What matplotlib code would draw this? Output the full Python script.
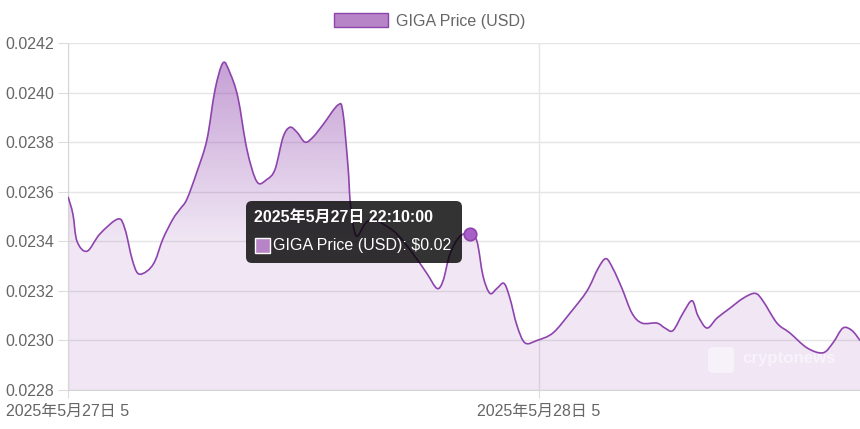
import numpy as np
import matplotlib.pyplot as plt
from matplotlib.path import Path
from matplotlib.patches import PathPatch, FancyBboxPatch, Rectangle, Patch

plt.rcParams['font.family'] = ['Liberation Sans', 'Noto Sans CJK JP']

# hours since first sample, GIGA price in USD
hours = [0.00, 0.25, 0.46, 0.97, 1.63, 2.55, 2.90, 3.26, 3.57, 4.03,
         4.43, 4.84, 5.35, 5.71, 6.06, 6.57, 7.08, 7.49, 7.90, 8.25,
         8.66, 9.12, 9.63, 10.14, 10.55, 10.96, 11.31, 11.67, 12.08, 12.48,
         12.99, 13.76, 14.01, 14.27, 14.37, 14.52, 14.73, 15.13, 15.54, 16.05,
         16.76, 17.58, 18.29, 18.80, 19.11, 19.47, 19.97, 20.48, 20.84, 21.15,
         21.50, 21.86, 22.22, 22.52, 22.88, 23.29, 23.90, 24.71, 25.58, 26.45,
         27.01, 27.41, 27.77, 28.23, 28.74, 29.25, 30.01, 30.42, 30.83, 31.34,
         31.80, 32.10, 32.56, 33.07, 33.73, 34.40, 35.01, 35.41, 36.13, 36.79,
         37.66, 38.47, 38.98, 39.49, 39.95, 40.36]
price = [0.02358, 0.02351, 0.02340, 0.02336, 0.02343, 0.02349, 0.02345, 0.02333, 0.02327, 0.02328,
         0.02332, 0.02341, 0.02349, 0.02353, 0.02357, 0.02368, 0.02381, 0.02401, 0.02412, 0.02408,
         0.02398, 0.02377, 0.02364, 0.02365, 0.02369, 0.02382, 0.02386, 0.02384, 0.02380, 0.02382,
         0.02387, 0.02395, 0.02392, 0.02370, 0.02357, 0.02347, 0.02342, 0.02347, 0.02349, 0.02347,
         0.02343, 0.02335, 0.02327, 0.02321, 0.02324, 0.02335, 0.02342, 0.02343, 0.02340, 0.02326,
         0.02319, 0.02321, 0.02323, 0.02317, 0.02306, 0.02299, 0.02300, 0.02303, 0.02311, 0.02320,
         0.02329, 0.02333, 0.02329, 0.02321, 0.02311, 0.02307, 0.02307, 0.02305, 0.02304, 0.02311,
         0.02316, 0.02310, 0.02305, 0.02309, 0.02313, 0.02317, 0.02319, 0.02316, 0.02307, 0.02303,
         0.02297, 0.02295, 0.02299, 0.02305, 0.02304, 0.02300]

x_ticks = [0, 24]
x_labels = ['2025年5月27日 5', '2025年5月28日 5']
y_ticks = [0.0228, 0.0230, 0.0232, 0.0234, 0.0236, 0.0238, 0.0240, 0.0242]
series_name = 'GIGA Price (USD)'
tip_title = '2025年5月27日 22:10:00'
tip_label = 'GIGA Price (USD): $0.02'
tip_idx = 47

line_c = '#8e44ad'
box_c = '#b784c8'
text_c = '#666666'
grid_c = '#e5e5e5'


def smooth_path(x, y, k=1 / 6):
    # catmull-rom through the points, like chart.js tension
    verts = [(x[0], y[0])]
    codes = [Path.MOVETO]
    n = len(x)
    for i in range(n - 1):
        x0, y0 = x[max(i - 1, 0)], y[max(i - 1, 0)]
        x3, y3 = x[min(i + 2, n - 1)], y[min(i + 2, n - 1)]
        c1 = (x[i] + (x[i + 1] - x0) * k, y[i] + (y[i + 1] - y0) * k)
        c2 = (x[i + 1] - (x3 - x[i]) * k, y[i + 1] - (y3 - y[i]) * k)
        verts += [c1, c2, (x[i + 1], y[i + 1])]
        codes += [Path.CURVE4] * 3
    return verts, codes


fig = plt.figure(figsize=(8.6, 4.29), dpi=100)
ax = fig.add_axes([68 / 860, 1 - 390 / 429, 1 - 68 / 860, (390 - 43) / 429])

ymin, ymax = y_ticks[0], y_ticks[-1]
xmax = hours[-1]
ax.set_xlim(0, xmax)
ax.set_ylim(ymin, ymax)

verts, codes = smooth_path(hours, price)

# gradient area fill
fverts = verts + [(hours[-1], ymin), (hours[0], ymin), (hours[0], ymin)]
fcodes = codes + [Path.LINETO, Path.LINETO, Path.CLOSEPOLY]
fill_patch = PathPatch(Path(fverts, fcodes), facecolor='none', edgecolor='none')
ax.add_patch(fill_patch)
yy = np.linspace(ymin, ymax, 300)
alpha = np.clip(0.13 + 0.42 * (yy - 0.02340) / (ymax - 0.02340), 0.13, 0.55)
grad = np.zeros((300, 1, 4))
grad[:, 0, 0] = 142 / 255
grad[:, 0, 1] = 68 / 255
grad[:, 0, 2] = 173 / 255
grad[:, 0, 3] = alpha
im = ax.imshow(grad, extent=[0, xmax, ymin, ymax], origin='lower', aspect='auto', zorder=1)
im.set_clip_path(fill_patch)

ax.add_patch(PathPatch(Path(verts, codes), facecolor='none', edgecolor=line_c, lw=1.2, zorder=3))

ax.plot(hours[tip_idx], price[tip_idx], 'o', ms=9, mfc='#a860c8', mec=line_c, mew=1.2, zorder=4)

ax.set_yticks(y_ticks)
ax.set_yticklabels([f'{v:.4f}' for v in y_ticks])
ax.set_xticks(x_ticks)
ax.set_xticklabels(x_labels)
ax.tick_params(axis='both', colors='#dddddd', labelcolor=text_c, labelsize=11.5)
ax.tick_params(axis='y', length=7, pad=3)
ax.tick_params(axis='x', length=6, pad=4)
ax.grid(True, color=grid_c, lw=1)
ax.set_axisbelow(True)
for s in ['top', 'right']:
    ax.spines[s].set_visible(False)
for s in ['left', 'bottom']:
    ax.spines[s].set_color('#d6d6d6')

# watermark
tr = fig.dpi_scale_trans
H = 4.29
fig.patches.append(FancyBboxPatch((7.08, H - 3.73), 0.26, 0.26, boxstyle='round,pad=0,rounding_size=0.05',
                                  transform=tr, facecolor='white', alpha=0.5, edgecolor='none', zorder=2))
fig.text(7.42, H - 3.58, 'cryptonews', transform=tr, ha='left', va='center',
         fontsize=12.2, fontweight='bold', color='white', alpha=0.55, zorder=2)

fig.legend(handles=[Patch(facecolor=box_c, edgecolor=line_c, lw=1)], labels=[series_name],
           loc='center', bbox_to_anchor=(0.5, 1 - 21 / 429), frameon=False, fontsize=11.5,
           handlelength=3.4, handleheight=1.0, handletextpad=0.5, labelcolor=text_c)

# tooltip
fig.patches.append(FancyBboxPatch((2.46, H - 2.63), 2.16, 0.62, boxstyle='round,pad=0,rounding_size=0.06',
                                  transform=tr, facecolor='black', alpha=0.8, edgecolor='none', zorder=10))
fig.text(2.54, H - 2.17, tip_title, transform=tr, color='white', fontsize=11.5, fontweight='bold',
         va='center', ha='left', zorder=11)
fig.patches.append(Rectangle((2.55, H - 2.53), 0.15, 0.15, transform=tr, facecolor=box_c,
                             edgecolor='white', lw=1, zorder=11))
fig.text(2.73, H - 2.455, tip_label, transform=tr, color='white', fontsize=11.5,
         va='center', ha='left', zorder=11)

fig.savefig('out.png', dpi=100)
